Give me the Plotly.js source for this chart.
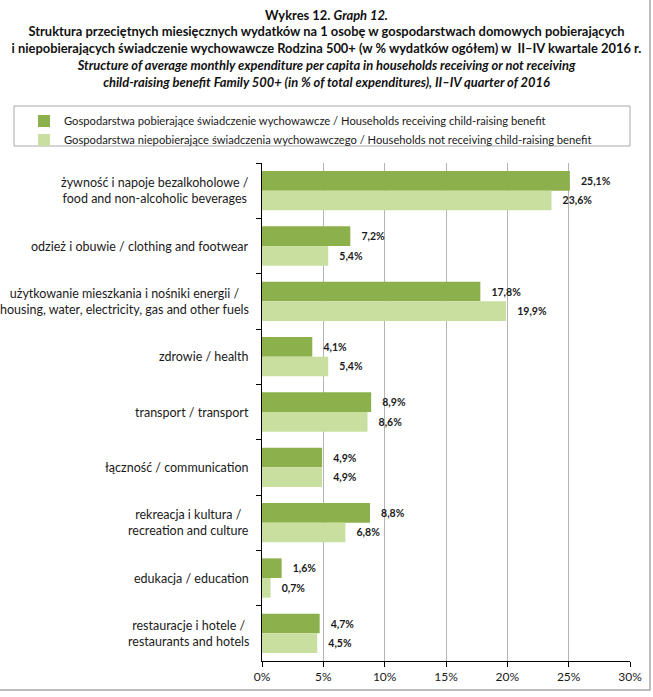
<!DOCTYPE html>
<html>
<head>
<meta charset="utf-8">
<script src="https://cdn.plot.ly/plotly-3.0.1.min.js"></script>
<style>html,body{margin:0;padding:0;background:#fff;}#chart{width:653px;height:697px;}</style>
</head>
<body>
<div id="chart"></div>
<script>
const categories = [
  "żywność i napoje bezalkoholowe /<br>food and non-alcoholic beverages",
  "odzież i obuwie / clothing and footwear",
  "użytkowanie mieszkania i nośniki energii /<br>housing, water, electricity, gas and other fuels",
  "zdrowie / health",
  "transport / transport",
  "łączność / communication",
  "rekreacja i kultura /<br>recreation and culture",
  "edukacja / education",
  "restauracje i hotele /<br>restaurants and hotels"
];
const receiving = [25.1, 7.2, 17.8, 4.1, 8.9, 4.9, 8.8, 1.6, 4.7];
const notReceiving = [23.6, 5.4, 19.9, 5.4, 8.6, 4.9, 6.8, 0.7, 4.5];
const seriesNames = [
  "Gospodarstwa pobierające świadczenie wychowawcze / Households receiving child-raising benefit",
  "Gospodarstwa niepobierające świadczenia wychowawczego / Households not receiving child-raising benefit"
];
const xTicks = [0, 5, 10, 15, 20, 25, 30];
const xTickLabels = ["0%", "5%", "10%", "15%", "20%", "25%", "30%"];

const FONT = "Lato, 'Open Sans', sans-serif";
const dark = "#8CB04C", light = "#C8DFA0";

const labelFont = {family: FONT, size: 10.5, color: "#1a1a1a"};
const traces = [
  {type: "bar", orientation: "h", name: seriesNames[0], y: categories, x: receiving,
   marker: {color: dark}, texttemplate: "\u00a0\u00a0\u00a0<b>%{x:.1f}%</b>", textposition: "outside",
   textfont: labelFont, cliponaxis: false, hoverinfo: "none"},
  {type: "bar", orientation: "h", name: seriesNames[1], y: categories, x: notReceiving,
   marker: {color: light}, texttemplate: "\u00a0\u00a0\u00a0<b>%{x:.1f}%</b>", textposition: "outside",
   textfont: labelFont, cliponaxis: false, hoverinfo: "none"}
];

const L = 262, R = 630, T = 163, B = 661;
const px = v => (v - L) / (R - L);
const py = v => (B - v) / (B - T);

const annotations = categories.map(c => ({
  xref: "paper", yref: "y", x: 0, y: c, xanchor: "right", xshift: -11,
  text: c, showarrow: false, align: "center",
  font: {family: FONT, size: 12.5, color: "#1a1a1a"}
}));

const layout = {
  width: 653, height: 697,
  margin: {l: L, r: 653 - R, t: T, b: 697 - B},
  paper_bgcolor: "#fff", plot_bgcolor: "#fff",
  separators: ", ",
  font: {family: FONT, color: "#1a1a1a"},
  title: {
    text: "<b>Wykres 12. <i>Graph 12.</i></b><br>" +
      "<b>Struktura przeciętnych miesięcznych wydatków na 1 osobę w gospodarstwach domowych pobierających</b><br>" +
      "<b>i niepobierających świadczenie wychowawcze Rodzina 500+ (w % wydatków ogółem) w  II–IV kwartale 2016 r.</b><br>" +
      "<b><i>Structure of average monthly expenditure per capita in households receiving or not receiving</i></b><br>" +
      "<b><i>child-raising benefit Family 500+ (in % of total expenditures), II–IV quarter of 2016</i></b>",
    x: 0.5, xref: "container", xanchor: "center",
    y: 0.972, yref: "container", yanchor: "top",
    font: {family: FONT, size: 12.9, color: "#111"}
  },
  barmode: "group", bargap: 0.29, bargroupgap: 0,
  xaxis: {
    range: [0, 30], tickmode: "array", tickvals: xTicks, ticktext: xTickLabels,
    showgrid: true, gridcolor: "#B5B5B5", gridwidth: 1,
    showline: true, linecolor: "#000", linewidth: 1,
    ticks: "outside", ticklen: 5, tickcolor: "#000",
    zeroline: false, tickfont: {family: FONT, size: 12, color: "#1a1a1a"}, fixedrange: true
  },
  yaxis: {
    type: "category", autorange: "reversed",
    showticklabels: false, showgrid: false,
    showline: true, linecolor: "#000", linewidth: 1,
    ticks: "outside", ticklen: 5, tickcolor: "#000", tickson: "boundaries",
    fixedrange: true
  },
  showlegend: true,
  legend: {
    x: px(24), xanchor: "left", y: py(106.5), yanchor: "top",
    bgcolor: "rgba(0,0,0,0)", borderwidth: 0,
    font: {family: FONT, size: 11.2, color: "#1a1a1a"},
    traceorder: "normal", tracegroupgap: 0, itemwidth: 30
  },
  shapes: [
    {type: "rect", xref: "paper", yref: "paper", x0: px(14), x1: px(630), y0: py(146), y1: py(106),
     line: {color: "#A8A8A8", width: 1}, fillcolor: "rgba(0,0,0,0)", layer: "below"},
    {type: "rect", xref: "paper", yref: "paper", x0: px(-10), x1: px(650), y0: py(690), y1: py(-10),
     line: {color: "#A8A8A8", width: 1.5}, fillcolor: "rgba(0,0,0,0)", layer: "below"}
  ],
  annotations: annotations
};

Plotly.newPlot("chart", traces, layout, {displayModeBar: false, staticPlot: true});
</script>
</body>
</html>
